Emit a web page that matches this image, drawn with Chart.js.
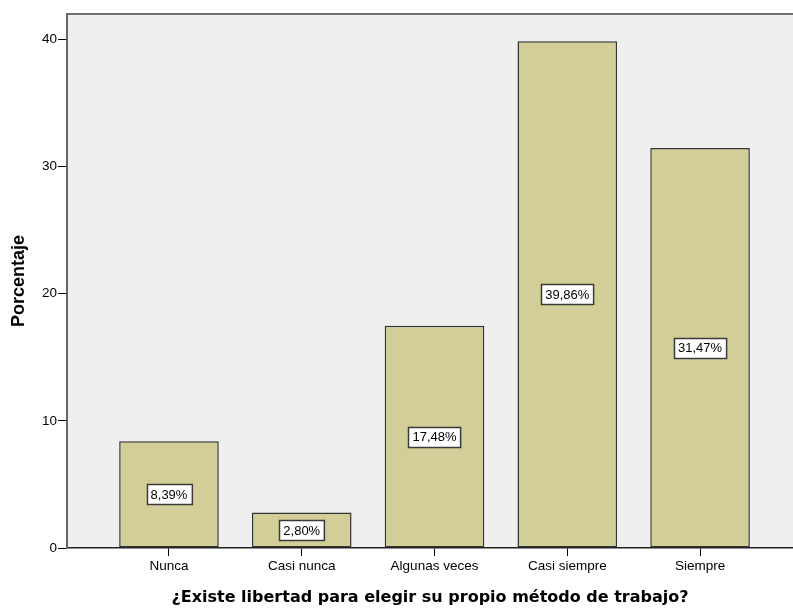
<!DOCTYPE html>
<html>
<head>
<meta charset="utf-8">
<script src="https://cdn.jsdelivr.net/npm/chart.js@4/dist/chart.umd.min.js"></script>
<style>
  html, body { margin: 0; padding: 0; background: #fff; }
  #wrap { width: 793px; height: 608px; }
</style>
</head>
<body>
<div id="wrap"><canvas id="chart" width="793" height="608"></canvas></div>
<script>
'use strict'

const categories = ['Nunca', 'Casi nunca', 'Algunas veces', 'Casi siempre', 'Siempre'];
const percents = [8.39, 2.80, 17.48, 39.86, 31.47];
const yTicks = [0, 10, 20, 30, 40];

const tickFont = { family: '"Liberation Sans", Arial, sans-serif', size: 13.5 };

// plot background + top frame line
const frame = {
    id: 'frame',
    beforeDraw(chart) {
        const { ctx, chartArea: a } = chart;
        ctx.save();
        ctx.fillStyle = '#efefef';
        ctx.fillRect(a.left, a.top, a.right - a.left, a.bottom - a.top);
        ctx.strokeStyle = '#707070';
        ctx.lineWidth = 2;
        ctx.beginPath();
        ctx.moveTo(a.left, a.top);
        ctx.lineTo(a.right, a.top);
        ctx.stroke();
        ctx.restore();
    }
};

// boxed percentage labels in the middle of each bar
const boxLabels = {
    id: 'boxLabels',
    afterDatasetsDraw(chart) {
        const ctx = chart.ctx;
        const meta = chart.getDatasetMeta(0);
        ctx.save();
        ctx.font = '13px "Liberation Sans", Arial, sans-serif';
        ctx.textAlign = 'center';
        ctx.textBaseline = 'middle';
        meta.data.forEach((bar, i) => {
            const text = percents[i].toFixed(2).replace('.', ',') + '%';
            const cy = (bar.y + bar.base) / 2;
            const w = ctx.measureText(text).width + 8;
            const h = 20;
            const x0 = Math.round(bar.x - w / 2) + 0.5;
            const y0 = Math.round(cy - h / 2) + 0.5;
            ctx.fillStyle = '#ffffff';
            ctx.fillRect(x0, y0, w, h);
            ctx.strokeStyle = '#3a3a3a';
            ctx.lineWidth = 1.5;
            ctx.strokeRect(x0, y0, w, h);
            ctx.fillStyle = '#000';
            ctx.fillText(text, bar.x, cy + 1);
        });
        ctx.restore();
    }
};

new Chart(document.getElementById('chart'), {
    type: 'bar',
    data: {
        datasets: [{
            data: percents.map((v, i) => ({ x: i, y: v })),
            backgroundColor: '#d3ce97',
            borderColor: '#333333',
            borderWidth: 1.5,
            borderSkipped: false,
            barPercentage: 0.75,
            categoryPercentage: 1
        }]
    },
    options: {
        responsive: false,
        animation: false,
        layout: { padding: { top: 14, right: 0, left: 0, bottom: 0 } },
        plugins: { legend: { display: false }, tooltip: { enabled: false } },
        scales: {
            x: {
                type: 'linear',
                offset: false,
                min: -0.768,
                max: 4.70,
                afterBuildTicks: s => { s.ticks = categories.map((c, i) => ({ value: i })); },
                afterFit: s => { s.height = 60; },
                ticks: {
                    autoSkip: false,
                    maxRotation: 0,
                    padding: 2,
                    color: '#000',
                    font: tickFont,
                    callback: v => categories[v]
                },
                grid: { drawOnChartArea: false, drawTicks: true, tickLength: 8, color: '#000', offset: false },
                border: { display: true, color: '#222', width: 1.5 },
                title: {
                    display: true,
                    text: '¿Existe libertad para elegir su propio método de trabajo?',
                    color: '#000',
                    font: { family: '"DejaVu Sans", Verdana, sans-serif', size: 16, weight: 'bold' },
                    padding: { top: 0, bottom: 1 }
                }
            },
            y: {
                min: 0,
                max: 42,
                afterBuildTicks: s => { s.ticks = yTicks.map(v => ({ value: v })); },
                afterFit: s => { s.width = 67; },
                ticks: { padding: 1, color: '#000', font: tickFont },
                grid: { drawOnChartArea: false, drawTicks: true, tickLength: 9, color: '#000' },
                border: { display: true, color: '#666', width: 2 },
                title: {
                    display: true,
                    text: 'Porcentaje',
                    color: '#000',
                    font: { family: '"Liberation Sans", Arial, sans-serif', size: 18, weight: 'bold' },
                    padding: { top: 8, bottom: 0 }
                }
            }
        }
    },
    plugins: [frame, boxLabels]
});
</script>
</body>
</html>
